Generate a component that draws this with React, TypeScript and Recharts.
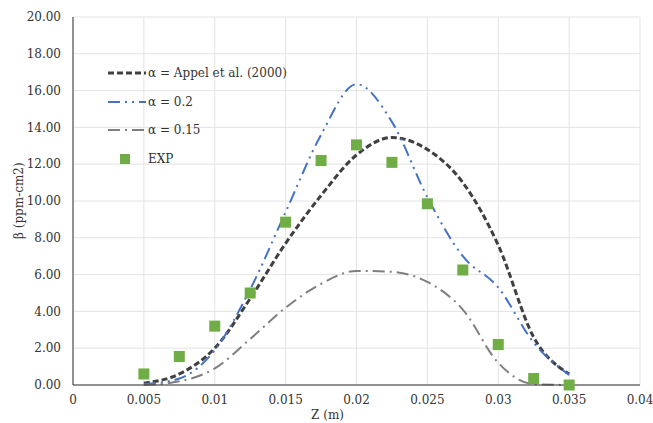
import { ComposedChart, Line, Scatter, XAxis, YAxis, CartesianGrid } from 'recharts';

const zValues = [0.005, 0.0075, 0.01, 0.0125, 0.015, 0.0175, 0.02, 0.0225, 0.025, 0.0275, 0.03, 0.0325, 0.035];
const appel = [0.1, 0.6, 2.0, 4.7, 7.7, 10.3, 12.5, 13.45, 12.8, 11.0, 7.6, 2.6, 0.6];
const alpha02 = [0.05, 0.35, 1.9, 5.2, 9.4, 13.6, 16.35, 14.3, 10.2, 7.0, 5.3, 2.3, 0.55];
const alpha015 = [0.0, 0.2, 0.9, 2.5, 4.2, 5.5, 6.2, 6.15, 5.6, 4.1, 1.2, 0.05, 0.0];
const exp = [0.6, 1.55, 3.2, 5.0, 8.85, 12.2, 13.05, 12.1, 9.85, 6.25, 2.2, 0.35, 0.0];

const xTicks = [0, 0.005, 0.01, 0.015, 0.02, 0.025, 0.03, 0.035, 0.04];
const yTicks = [0, 2, 4, 6, 8, 10, 12, 14, 16, 18, 20];

const data = zValues.map((z, i) => ({
  z,
  appel: appel[i],
  a02: alpha02[i],
  a015: alpha015[i],
  exp: exp[i],
}));

const FONT = '"DejaVu Serif", serif';

const legendItems = [
  { label: 'α = Appel et al. (2000)', kind: 'line', color: '#404040', dash: '6 3', width: 3 },
  { label: 'α = 0.2', kind: 'line', color: '#4472C4', dash: '12 5 2 5 2 5', width: 2 },
  { label: 'α = 0.15', kind: 'line', color: '#7F7F7F', dash: '12 5 2 5', width: 2 },
  { label: 'EXP', kind: 'square', color: '#70AD47' },
];

// legend sits inside the plot, top-left, like the original
function LegendBox() {
  return (
    <div style={{ position: 'absolute', left: 108, top: 59, fontFamily: FONT, fontSize: 12, color: '#333' }}>
      {legendItems.map((it) => (
        <div key={it.label} style={{ display: 'flex', alignItems: 'center', height: 28.5 }}>
          <svg width={40} height={14}>
            {it.kind === 'line' ? (
              <line x1={0} y1={7} x2={38} y2={7} stroke={it.color} strokeWidth={it.width} strokeDasharray={it.dash} />
            ) : (
              <rect x={12} y={2} width={10} height={10} fill={it.color} />
            )}
          </svg>
          <span>{it.label}</span>
        </div>
      ))}
    </div>
  );
}

const SquareDot = (props: any) => {
  const { cx, cy } = props;
  if (cx == null || cy == null) return null;
  return <rect x={cx - 5.5} y={cy - 5.5} width={11} height={11} fill="#70AD47" />;
};

export default function App() {
  return (
    <div style={{ position: 'absolute', left: 0, top: 0, width: 653, height: 423, background: '#fff' }}>
      <ComposedChart width={653} height={423} data={data} margin={{ top: 17, right: 13, left: 0, bottom: 0 }}>
        <CartesianGrid stroke="#e3e3e3" />
        <XAxis
          dataKey="z"
          type="number"
          domain={[0, 0.04]}
          ticks={xTicks}
          tickFormatter={(v: number) => String(v)}
          tickLine={false}
          tickSize={8}
          height={38}
          stroke="#333"
          tick={{ fill: '#333', fontSize: 12, fontFamily: FONT }}
          label={{ value: 'Z (m)', position: 'insideBottom', offset: 4, dx: -29, fill: '#333', fontSize: 12, fontFamily: FONT }}
        />
        <YAxis
          type="number"
          domain={[0, 20]}
          ticks={yTicks}
          tickFormatter={(v: number) => v.toFixed(2)}
          tickLine={false}
          tickSize={10}
          width={73}
          stroke="#333"
          tick={{ fill: '#333', fontSize: 12, fontFamily: FONT }}
          label={{ value: 'β (ppm-cm2)', angle: -90, position: 'insideLeft', offset: 19, dy: 38, fill: '#333', fontSize: 12, fontFamily: FONT }}
        />
        <Line type="monotone" dataKey="appel" stroke="#404040" strokeWidth={3} strokeDasharray="6 3" dot={false} isAnimationActive={false} />
        <Line type="monotone" dataKey="a02" stroke="#4472C4" strokeWidth={2} strokeDasharray="12 5 2 5 2 5" dot={false} isAnimationActive={false} />
        <Line type="monotone" dataKey="a015" stroke="#7F7F7F" strokeWidth={2} strokeDasharray="12 5 2 5" dot={false} isAnimationActive={false} />
        <Scatter dataKey="exp" shape={SquareDot} isAnimationActive={false} />
      </ComposedChart>
      <LegendBox />
    </div>
  );
}
